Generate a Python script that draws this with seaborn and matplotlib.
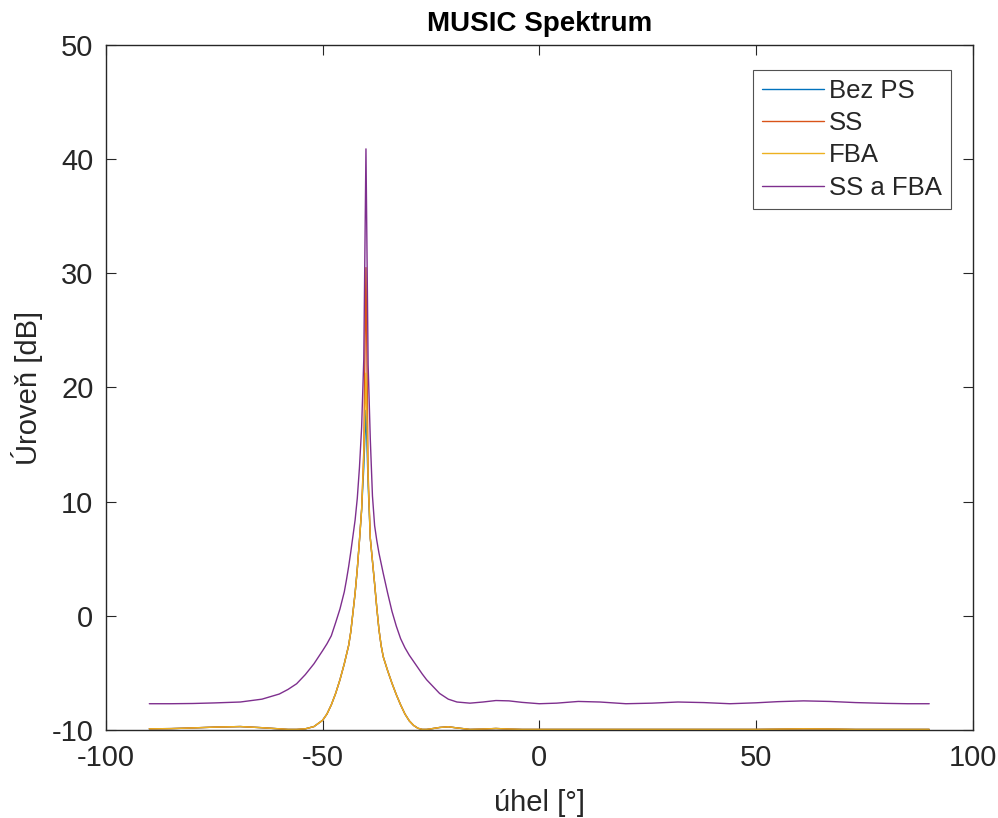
import numpy as np
import pandas as pd
import matplotlib
matplotlib.use("Agg")
import matplotlib.pyplot as plt
import seaborn as sns

# angles (deg)
angles = [-90, -85, -80, -75, -69, -64, -60, -58, -56, -54, -52, -50, -49, -48, -47, -46, -45,
          -44.5, -44, -43.5, -43, -42.5, -42, -41.5, -41, -40.5, -40,
          -39.5, -39, -38.5, -38, -37.5, -37, -36.5, -36, -35, -34, -33, -32, -31, -30, -29, -28,
          -27, -26, -25, -23, -21, -19, -16, -13, -10, -7, -4, 0, 4, 9, 14, 20, 26, 32, 38, 44,
          50, 55, 61, 67, 73, 80, 85, 90]

fba = [-9.9, -9.88, -9.82, -9.75, -9.7, -9.8, -9.9, -9.95, -9.95, -9.9, -9.7, -9.15, -8.6, -7.8, -6.8, -5.6, -4.2,
       -3.4, -2.6, -1.4, 0.3, 2.0, 4.1, 6.6, 9.3, 14.0, 21.25,
       12.0, 6.8, 4.8, 2.8, 0.7, -1.2, -2.6, -3.6, -4.8, -5.9, -6.9, -7.8, -8.6, -9.2, -9.6, -9.85,
       -9.95, -9.95, -9.9, -9.78, -9.72, -9.82, -9.95, -9.92, -9.87, -9.92, -9.95, -9.95, -9.95, -9.95, -9.95, -9.95, -9.95, -9.95, -9.95, -9.95,
       -9.95, -9.93, -9.9, -9.92, -9.95, -9.95, -9.95, -9.95]

bez_ps = [-9.9, -9.88, -9.82, -9.75, -9.7, -9.8, -9.9, -9.95, -9.95, -9.9, -9.7, -9.15, -8.6, -7.8, -6.8, -5.6, -4.2,
          -3.4, -2.6, -1.4, 0.3, 2.0, 4.1, 6.6, 9.3, 13.0, 18.0,
          11.5, 6.8, 4.8, 2.8, 0.7, -1.2, -2.6, -3.6, -4.8, -5.9, -6.9, -7.8, -8.6, -9.2, -9.6, -9.85,
          -9.95, -9.95, -9.9, -9.78, -9.72, -9.82, -9.95, -9.92, -9.87, -9.92, -9.95, -9.95, -9.95, -9.95, -9.95, -9.95, -9.95, -9.95, -9.95, -9.95,
          -9.95, -9.93, -9.9, -9.92, -9.95, -9.95, -9.95, -9.95]

ss = [-9.9, -9.88, -9.82, -9.75, -9.7, -9.8, -9.9, -9.95, -9.95, -9.9, -9.7, -9.15, -8.6, -7.8, -6.8, -5.6, -4.2,
      -3.4, -2.6, -1.4, 0.3, 2.0, 4.1, 6.6, 9.3, 14.5, 30.5,
      12.5, 6.8, 4.8, 2.8, 0.7, -1.2, -2.6, -3.6, -4.8, -5.9, -6.9, -7.8, -8.6, -9.2, -9.6, -9.85,
      -9.95, -9.95, -9.9, -9.78, -9.72, -9.82, -9.95, -9.92, -9.87, -9.92, -9.95, -9.95, -9.95, -9.95, -9.95, -9.95, -9.95, -9.95, -9.95, -9.95,
      -9.95, -9.93, -9.9, -9.92, -9.95, -9.95, -9.95, -9.95]

ss_fba = [-7.7, -7.7, -7.68, -7.63, -7.55, -7.3, -6.85, -6.45, -5.95, -5.15, -4.2, -3.05, -2.45, -1.75, -0.6, 0.6, 2.1,
          3.15, 4.3, 5.6, 7.0, 8.4, 10.3, 13.0, 16.5, 22.5, 40.9,
          22.0, 15.5, 10.5, 7.9, 6.6, 5.5, 4.6, 3.7, 2.0, 0.4, -0.9, -2.0, -2.8, -3.45, -4.0, -4.55,
          -5.1, -5.6, -6.0, -6.8, -7.3, -7.55, -7.65, -7.55, -7.42, -7.45, -7.58, -7.7, -7.65, -7.5, -7.55, -7.7, -7.65, -7.55, -7.6, -7.7,
          -7.62, -7.52, -7.45, -7.5, -7.6, -7.67, -7.7, -7.7]

series_names = ["Bez PS", "SS", "FBA", "SS a FBA"]
colors = ["#0072BD", "#D95319", "#EDB120", "#7E2F8E"]

frames = []
for name, vals in zip(series_names, [bez_ps, ss, fba, ss_fba]):
    frames.append(pd.DataFrame({"angle": angles, "level": vals, "series": name}))
df = pd.concat(frames, ignore_index=True)

sns.set_style("ticks")
plt.rcParams["font.family"] = ["Liberation Sans", "DejaVu Sans"]
plt.rcParams["axes.unicode_minus"] = False

fig = plt.figure(figsize=(9.98, 8.18), dpi=100)
ax = fig.add_axes([0.1062, 0.1076, 0.8683, 0.8374])

sns.lineplot(data=df, x="angle", y="level", hue="series", hue_order=series_names,
             palette=colors, estimator=None, sort=False, linewidth=1.0, ax=ax)

ax.set_xlim(-100, 100)
ax.set_ylim(-10, 50)
ax.set_xticks([-100, -50, 0, 50, 100])
ax.set_yticks([-10, 0, 10, 20, 30, 40, 50])

axcol = "#262626"
for s in ax.spines.values():
    s.set_visible(True)
    s.set_color(axcol)
    s.set_linewidth(1.0)
ax.tick_params(direction="in", top=True, right=True, length=7, width=0.8,
               labelsize=21, colors=axcol)
ax.tick_params(axis="x", pad=10)
ax.tick_params(axis="y", pad=9)

ax.set_xlabel("úhel [°]", fontsize=21, color=axcol, labelpad=12)
ax.set_ylabel("Úroveň [dB]", fontsize=21, color=axcol, labelpad=6)
ax.set_title("MUSIC Spektrum", fontsize=20, fontweight="bold", color="black", pad=10)

leg = ax.legend(loc="upper right", bbox_to_anchor=(1 - 21.5 / 866.5, 1 - 25 / 685),
                fontsize=18.5, frameon=True, fancybox=False, handlelength=2.4,
                handletextpad=0.2, borderpad=0.35, labelspacing=0.32, borderaxespad=0)
leg.get_frame().set_edgecolor(axcol)
leg.get_frame().set_linewidth(0.8)
for line in leg.get_lines():
    line.set_linewidth(1.0)

fig.savefig("out.png", dpi=100)
